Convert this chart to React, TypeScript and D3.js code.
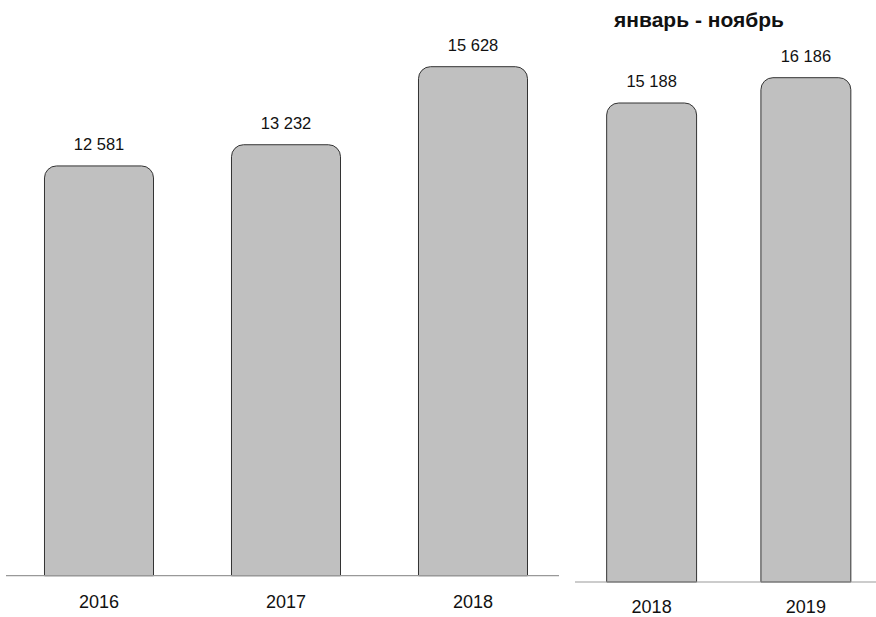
import React from "react";
import * as d3 from "d3";

const leftYears = ["2016", "2017", "2018"];
const leftValues = [12581, 13232, 15628];
const rightYears = ["2018", "2019"];
const rightValues = [15188, 16186];
const rightTitle = "январь - ноябрь";

const W = 876;
const H = 617;
const FONT = "'Liberation Sans', Arial, sans-serif";

const fmt = (v: number) => d3.format(",")(v).replace(/,/g, " ");

function topRoundedRect(x: number, y: number, w: number, h: number, r: number) {
  const p = d3.path();
  p.moveTo(x, y + h);
  p.lineTo(x, y + r);
  p.arcTo(x, y, x + r, y, r);
  p.lineTo(x + w - r, y);
  p.arcTo(x + w, y, x + w, y + r, r);
  p.lineTo(x + w, y + h);
  p.closePath();
  return p.toString();
}

function Panel({ years, values, xRange, yScale, baseline, axisX, labelY }: any) {
  const x = d3.scaleBand().domain(years).range(xRange).paddingInner(0.417).paddingOuter(0.2085);
  return (
    <g>
      {years.map((yr: string, i: number) => {
        const bx = x(yr)!;
        const by = yScale(values[i]);
        return (
          <g key={yr}>
            <path
              d={topRoundedRect(bx, by, x.bandwidth(), baseline - by, 12)}
              fill="#c0c0c0"
              stroke="#333"
              strokeWidth={1}
            />
            <text x={bx + x.bandwidth() / 2} y={by - 16} textAnchor="middle" fontSize={16.5} fontFamily={FONT} fill="#111">
              {fmt(values[i])}
            </text>
            <text x={bx + x.bandwidth() / 2} y={labelY} textAnchor="middle" fontSize={18} fontFamily={FONT} fill="#111">
              {yr}
            </text>
          </g>
        );
      })}
      <line x1={axisX[0]} x2={axisX[1]} y1={baseline} y2={baseline} stroke="#999" strokeWidth={1.2} />
    </g>
  );
}

export default function App() {
  const leftBase = 575.7;
  const yL = d3.scaleLinear().domain([0, 15628]).range([leftBase, 66.7]);
  const rightBase = 582;
  const yR = d3.scaleLinear().domain([-3700, 16186]).range([rightBase, 77.7]);
  return (
    <svg width={W} height={H} style={{ position: "absolute", left: 0, top: 0, background: "#fff" }}>
      <Panel years={leftYears} values={leftValues} xRange={[5.5, 566.5]} yScale={yL} baseline={leftBase} axisX={[6, 559]} labelY={608} />
      <Panel years={rightYears} values={rightValues} xRange={[574.5, 883]} yScale={yR} baseline={rightBase} axisX={[575, 876]} labelY={612.5} />
      <text x={699} y={27} textAnchor="middle" fontSize={21} fontWeight="bold" fontFamily={FONT} fill="#111">
        {rightTitle}
      </text>
    </svg>
  );
}
